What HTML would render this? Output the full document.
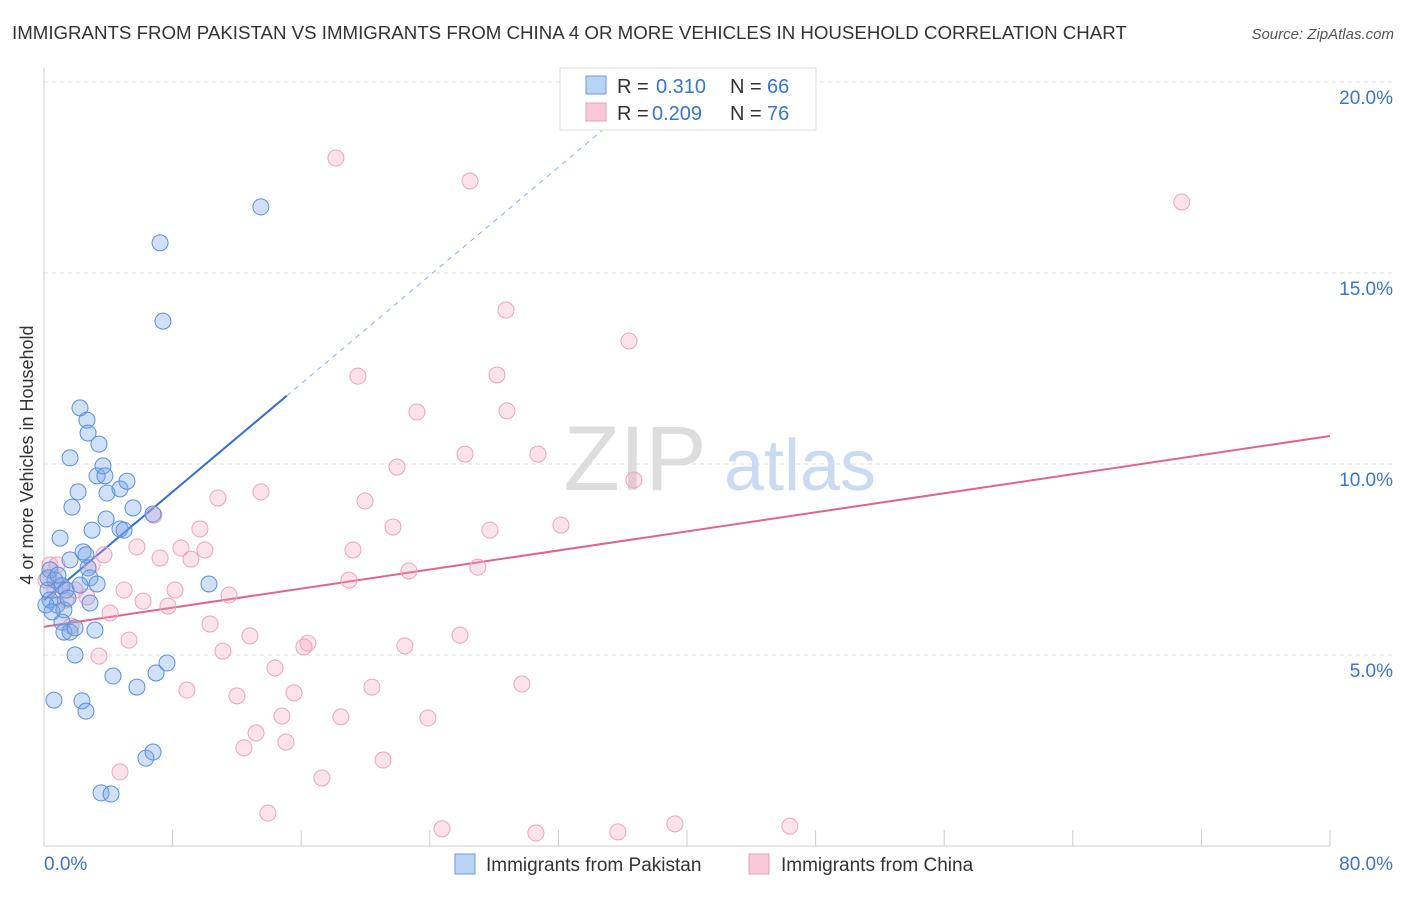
<!DOCTYPE html>
<html><head><meta charset="utf-8"><style>
body{margin:0;background:#fff;font-family:"Liberation Sans",sans-serif;}
svg text{font-family:"Liberation Sans",sans-serif;}
</style></head><body>
<svg id="chart" width="1406" height="892" xmlns="http://www.w3.org/2000/svg">
<text x="12" y="39" font-size="18.7" fill="#333">IMMIGRANTS FROM PAKISTAN VS IMMIGRANTS FROM CHINA 4 OR MORE VEHICLES IN HOUSEHOLD CORRELATION CHART</text>
<text x="1394" y="39" font-size="15" fill="#555" text-anchor="end" font-style="italic">Source: ZipAtlas.com</text>
<text transform="translate(33,455) rotate(-90)" font-size="18" fill="#333" text-anchor="middle">4 or more Vehicles in Household</text>
<g><text x="635" y="490" font-size="92" fill="#ddd" font-family="Liberation Serif" text-anchor="middle">ZIP</text><text x="800" y="490" font-size="72" fill="#c9daf3" text-anchor="middle">atlas</text></g>
<g id="grid"></g><g id="axes"></g><g id="trend"></g><g id="pts"></g>
<g>
<rect x="560" y="68" width="256" height="62" fill="#fff" stroke="#ddd"/>
<rect x="586" y="76" width="20" height="18" fill="#b9d3f5" stroke="#6a9be0"/>
<text x="617" y="93" font-size="20" fill="#333">R =</text><text x="656" y="93" font-size="20" fill="#3a74d0">0.310</text>
<text x="730" y="93" font-size="20" fill="#333">N =</text><text x="767" y="93" font-size="20" fill="#3a74d0">66</text>
<rect x="586" y="103" width="20" height="18" fill="#f8c8d8" stroke="#e8a0b8"/>
<text x="617" y="120" font-size="20" fill="#333">R =</text><text x="652" y="120" font-size="20" fill="#3a74d0">0.209</text>
<text x="730" y="120" font-size="20" fill="#333">N =</text><text x="767" y="120" font-size="20" fill="#3a74d0">76</text>
</g>
<g>
<rect x="455" y="854" width="20" height="20" fill="#b9d3f5" stroke="#6a9be0"/>
<text x="486" y="871" font-size="19" fill="#333">Immigrants from Pakistan</text>
<rect x="749" y="854" width="20" height="20" fill="#f8c8d8" stroke="#e8a0b8"/>
<text x="781" y="871" font-size="19" fill="#333">Immigrants from China</text>
</g>
</svg>
<script>
const yTicks=[5,10,15,20];
const yTickLabels=["5.0%","10.0%","15.0%","20.0%"];
const xEndLabels=["0.0%","80.0%"];
const pakX=[0.62,2.24,2.67,2.74,3.42,1.62,2.12,1.74,3.30,3.67,3.79,3.92,4.73,5.16,7.22,7.40,13.49,1.0,2.43,2.61,2.99,3.86,4.73,4.98,5.54,6.78,1.62,2.74,2.86,3.30,0.37,0.68,0.25,1.12,1.37,0.37,0.81,1.24,0.12,1.12,1.24,1.62,1.93,3.17,1.93,10.26,4.29,5.78,6.97,7.65,2.36,2.61,6.34,6.78,3.55,4.17,0.5,2.86,2.24,0.25,1.49,0.87];
const pakY=[3.82,11.47,11.15,10.81,10.52,10.16,9.27,8.87,9.69,9.95,9.69,9.24,9.35,9.55,15.79,13.74,16.73,8.06,7.70,7.62,8.27,8.56,8.30,8.27,8.85,8.69,7.49,7.28,7.02,6.86,7.23,6.96,6.70,6.81,6.70,6.44,6.31,6.18,6.31,5.86,5.60,5.60,5.71,5.65,5.0,6.86,4.45,4.16,4.53,4.79,3.80,3.53,2.30,2.46,1.39,1.36,6.13,6.36,6.83,7.02,6.49,7.09];
const chnX=[18.16,26.50,70.78,28.74,36.39,19.53,28.18,23.20,28.80,21.96,26.19,30.73,36.70,10.82,13.50,19.97,6.84,9.70,21.71,27.74,32.16,5.78,8.52,10.01,7.22,9.14,19.22,22.70,26.99,3.73,2.99,18.97,4.98,8.15,11.51,6.16,7.71,0.81,1.0,1.93,2.67,4.11,10.33,1.68,5.29,12.81,25.88,16.42,16.17,11.13,22.45,3.42,14.37,8.89,12.0,15.55,20.40,29.73,14.80,18.47,23.88,13.19,15.05,12.44,21.09,17.29,4.73,13.93,24.76,30.60,35.70,39.25,46.40,0.37,0.12,1.37,0.68];
const chnY=[18.01,17.41,16.86,14.03,13.22,12.30,12.33,11.36,11.39,9.92,10.26,10.26,9.58,9.11,9.27,9.03,8.66,8.30,8.35,8.27,8.40,7.83,7.80,7.75,7.54,7.51,7.75,7.20,7.30,7.62,7.36,6.96,6.70,6.70,6.57,6.41,6.28,7.36,6.83,6.70,6.52,6.10,5.81,5.76,5.39,5.50,5.52,5.31,5.21,5.10,5.24,4.97,4.66,4.08,3.93,4.01,4.16,4.24,3.40,3.38,3.35,2.96,2.72,2.57,2.25,1.78,1.94,0.86,0.45,0.34,0.37,0.58,0.52,7.36,6.96,6.44,6.70];
const pakTrend=[6.44,0.354]; // intercept, slope
const chnTrend=[5.74,0.0624];
const NS="http://www.w3.org/2000/svg";
const X0=44,X1=1330,Y0=846,YPER=38.2;
const xs=v=>X0+(v/80)*(X1-X0);
const ys=v=>Y0-v*YPER;
function mk(tag,attrs,parent){const e=document.createElementNS(NS,tag);for(const k in attrs)e.setAttribute(k,attrs[k]);parent.appendChild(e);return e;}
const grid=document.getElementById('grid'),axes=document.getElementById('axes'),trend=document.getElementById('trend'),pts=document.getElementById('pts');
yTicks.forEach((t,i)=>{
 const l=mk('line',{x1:X0,x2:1394,y1:ys(t),y2:ys(t),stroke:'#ddd','stroke-dasharray':'4,4'},grid);
 
 
 const tx=mk('text',{x:1393,y:ys(t)+22,'font-size':19,fill:'#3a74d0','text-anchor':'end'},axes);
 tx.textContent=yTickLabels[i];
 
 
});
const ax=mk('line',{x1:X0,x2:X1,y1:Y0,y2:Y0,stroke:'#ccc'},axes);


const ay=mk('line',{x1:X0,x2:X0,y1:68,y2:Y0,stroke:'#ccc'},axes);


for(let i=0;i<=10;i++){
 const t=mk('line',{x1:xs(i*8),x2:xs(i*8),y1:Y0,y2:Y0-16,stroke:'#ccc'},axes);
 
 
}
[[0,'start',xEndLabels[0]],[80,'end',xEndLabels[1]]].forEach(([v,a,s])=>{
 const t=mk('text',{x:v===0?44:1393,y:870,'font-size':19,fill:'#3a74d0','text-anchor':a},axes);
 t.textContent=s;
 
 
});
const pe=15.1, pd=(20-pakTrend[0])/pakTrend[1];
let l1=mk('line',{x1:xs(0),y1:ys(pakTrend[0]),x2:xs(pe),y2:ys(pakTrend[0]+pakTrend[1]*pe),stroke:'#2f6fd6','stroke-width':2},trend);


let l2=mk('line',{x1:xs(pe),y1:ys(pakTrend[0]+pakTrend[1]*pe),x2:xs(pd),y2:ys(20),stroke:'#8ab0e8','stroke-width':1,'stroke-dasharray':'5,5'},trend);


let l3=mk('line',{x1:xs(0),y1:ys(chnTrend[0]),x2:xs(80),y2:ys(chnTrend[0]+chnTrend[1]*80),stroke:'#e0648f','stroke-width':2},trend);


chnX.forEach((x,i)=>{
 const c=mk('circle',{cx:xs(x),cy:ys(chnY[i]),r:8,fill:'rgba(244,160,188,0.3)',stroke:'#eaa5bd','stroke-width':1},pts);
 
 
});
pakX.forEach((x,i)=>{
 const c=mk('circle',{cx:xs(x),cy:ys(pakY[i]),r:8,fill:'rgba(120,165,230,0.35)',stroke:'#5b8fdc','stroke-width':1},pts);
 
 
});
</script>
</body></html>
